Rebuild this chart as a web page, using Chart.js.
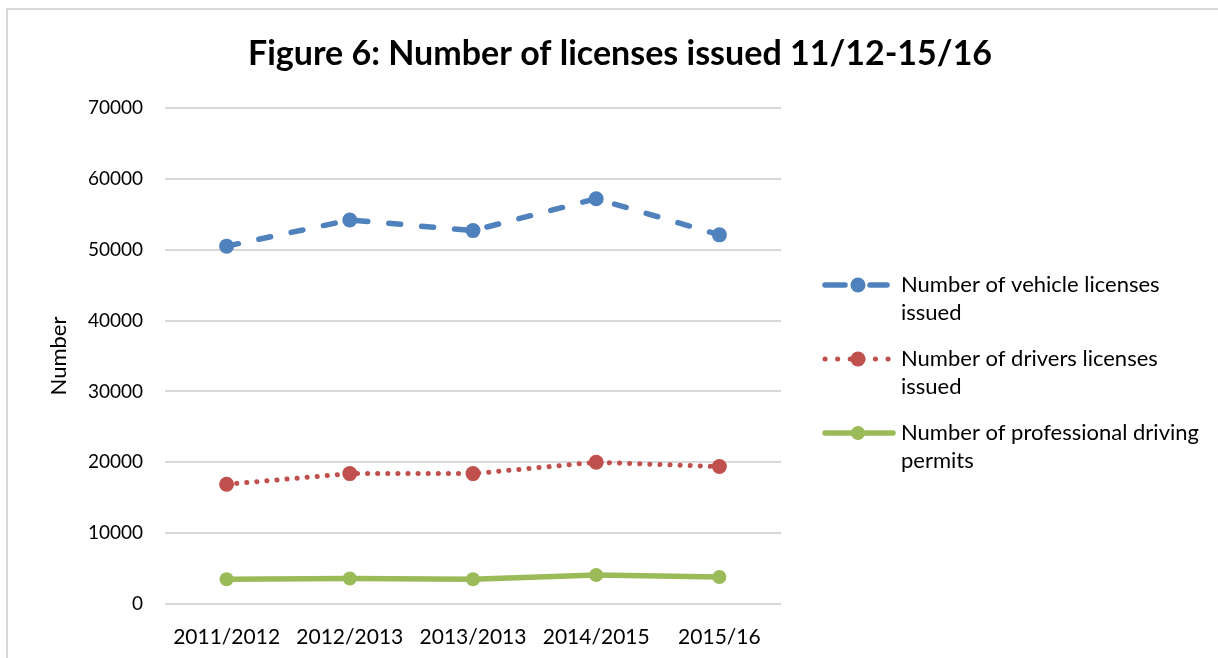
<!DOCTYPE html>
<html>
<head>
<meta charset="utf-8">
<script src="https://cdn.jsdelivr.net/npm/chart.js@4/dist/chart.umd.min.js"></script>
<style>
  html, body { margin: 0; padding: 0; background: #fff; }
  #wrap { position: relative; width: 1218px; height: 658px; overflow: hidden; }
  #frame { position: absolute; left: 6px; top: 8px; width: 1230px; height: 700px; border: 2px solid #d9d9d9; box-sizing: border-box; }
  #chart { position: absolute; left: 0; top: 0; }
</style>
</head>
<body>
<div id="wrap">
  <div id="frame"></div>
  <canvas id="chart" width="1218" height="658"></canvas>
</div>
<script>
// data
let years = ["2011/2012", "2012/2013", "2013/2013", "2014/2015", "2015/16"];
let vehicleLicenses = [50500, 54200, 52700, 57200, 52100];
let driversLicenses = [16900, 18400, 18400, 20000, 19400];
let professionalPermits = [3500, 3600, 3500, 4100, 3800];
let seriesNames = [
    "Number of vehicle licenses issued",
    "Number of drivers licenses issued",
    "Number of professional driving permits"
];
let yTicks = [0, 10000, 20000, 30000, 40000, 50000, 60000, 70000];
let chartTitle = "Figure 6: Number of licenses issued 11/12-15/16";

let fontFamily = "Lato, 'Open Sans', sans-serif";

// title and legend drawn by hand: title centred on the whole figure,
// legend names wrapped like the original
let sideLegend = {
    id: "sideLegend",
    afterDraw(chart) {
        let ctx = chart.ctx;
        ctx.save();
        ctx.fillStyle = "#000";
        ctx.textAlign = "center";
        ctx.textBaseline = "middle";
        ctx.font = "bold 34px " + fontFamily;
        ctx.fillText(chartTitle, 620, 54);

        let x0 = 825, textX = 901;
        let y = 285;
        ctx.font = "22px " + fontFamily;
        chart.data.datasets.forEach(ds => {
            ctx.beginPath();
            ctx.strokeStyle = ds.borderColor;
            ctx.lineWidth = ds.borderWidth;
            ctx.lineCap = "round";
            ctx.setLineDash(ds.legendDash || []);
            ctx.moveTo(x0, y);
            ctx.lineTo(ds.legendEnd, y);
            ctx.stroke();
            ctx.setLineDash([]);
            ctx.beginPath();
            ctx.fillStyle = ds.backgroundColor;
            ctx.arc(858, y, ds.pointRadius, 0, Math.PI * 2);
            ctx.fill();
            let words = ds.label.split(" ");
            let lines = [];
            let cur = "";
            words.forEach(w => {
                let test = cur ? cur + " " + w : w;
                if (ctx.measureText(test).width > 308 && cur) {
                    lines.push(cur);
                    cur = w;
                } else {
                    cur = test;
                }
            });
            lines.push(cur);
            ctx.fillStyle = "#000";
            ctx.textAlign = "left";
            lines.forEach((l, i) => ctx.fillText(l, textX, y + i * 28));
            y += 74;
        });
        ctx.restore();
    }
};

new Chart(document.getElementById("chart"), {
    type: "line",
    data: {
        labels: years,
        datasets: [
            {
                label: seriesNames[0],
                data: vehicleLicenses,
                borderColor: "#4f81bd",
                backgroundColor: "#4f81bd",
                borderWidth: 5.5,
                borderDash: [12, 21],
                legendDash: [20, 25],
                legendEnd: 887,
                borderCapStyle: "round",
                pointRadius: 7.5,
                pointBorderWidth: 0,
                tension: 0
            },
            {
                label: seriesNames[1],
                data: driversLicenses,
                borderColor: "#c0504d",
                backgroundColor: "#c0504d",
                borderWidth: 5,
                borderDash: [0.1, 10],
                legendDash: [0.1, 12.5],
                legendEnd: 890,
                borderCapStyle: "round",
                pointRadius: 7.5,
                pointBorderWidth: 0,
                tension: 0
            },
            {
                label: seriesNames[2],
                data: professionalPermits,
                borderColor: "#9bbb59",
                backgroundColor: "#9bbb59",
                borderWidth: 5.5,
                legendEnd: 893,
                borderCapStyle: "round",
                pointRadius: 7,
                pointBorderWidth: 0,
                tension: 0
            }
        ]
    },
    options: {
        responsive: false,
        animation: false,
        layout: { padding: { left: 40, right: 437, top: 108, bottom: 0 } },
        plugins: {
            legend: { display: false },
            tooltip: { enabled: false },
            title: { display: false }
        },
        scales: {
            x: {
                offset: true,
                grid: { display: false },
                border: { display: false },
                ticks: {
                    color: "#000",
                    font: { family: fontFamily, size: 21 },
                    padding: 13,
                    maxRotation: 0
                },
                afterFit: s => { s.height = 54; }
            },
            y: {
                min: 0,
                max: 70000,
                afterBuildTicks: s => { s.ticks = yTicks.map(v => ({ value: v })); },
                grid: { color: "#d9d9d9", lineWidth: 2, drawTicks: false },
                border: { display: false },
                ticks: {
                    color: "#000",
                    font: { family: fontFamily, size: 19 },
                    padding: 22,
                    callback: v => String(v)
                },
                title: {
                    display: true,
                    text: "Number",
                    color: "#000",
                    font: { family: fontFamily, size: 22 },
                    padding: { top: 6, bottom: 0 }
                },
                afterFit: s => { s.width = 125; }
            }
        }
    },
    plugins: [sideLegend]
});
</script>
</body>
</html>
